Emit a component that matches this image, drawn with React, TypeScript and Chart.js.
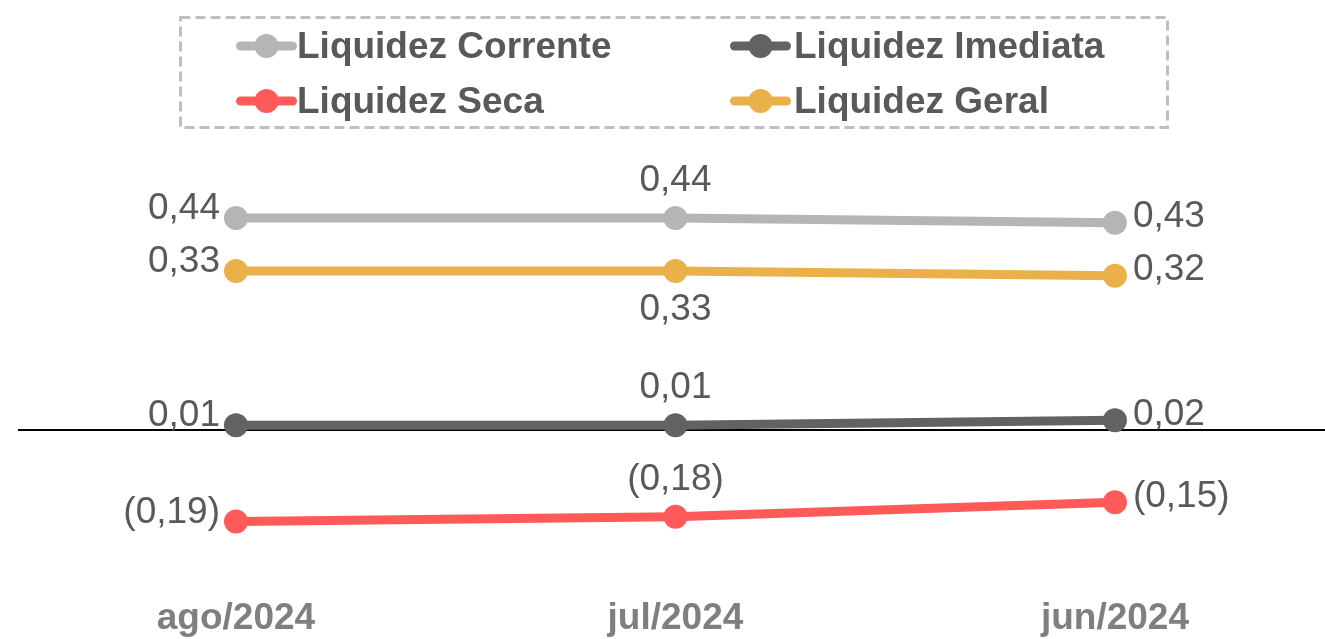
import React, { useEffect, useRef } from 'react';
import Chart from 'chart.js/auto';

const categories = ['ago/2024', 'jul/2024', 'jun/2024'];
const liquidezCorrente = [0.44, 0.44, 0.43];
const liquidezImediata = [0.01, 0.01, 0.02];
const liquidezSeca = [-0.19, -0.18, -0.15];
const liquidezGeral = [0.33, 0.33, 0.32];
const seriesNames = ['Liquidez Corrente', 'Liquidez Imediata', 'Liquidez Seca', 'Liquidez Geral'];

const seriesValues = [liquidezCorrente, liquidezImediata, liquidezSeca, liquidezGeral];
const seriesColors = ['#b5b5b5', '#626262', '#ff5a5a', '#eab04a'];
const labelPlacement = [
  ['left', 'above', 'right'],
  ['left', 'above', 'right'],
  ['left', 'above', 'right'],
  ['left', 'below', 'right'],
];

const FONT = '"Liberation Sans", Arial, sans-serif';

const fmt = (v: number) => {
  const s = Math.abs(v).toFixed(2).replace('.', ',');
  return v < 0 ? `(${s})` : s;
};

const zeroLinePlugin = {
  id: 'zeroLine',
  beforeDatasetsDraw(chart: any) {
    const { ctx, chartArea, scales } = chart;
    const y = Math.round(scales.y.getPixelForValue(0));
    ctx.save();
    ctx.strokeStyle = '#000000';
    ctx.lineWidth = 2;
    ctx.beginPath();
    ctx.moveTo(chartArea.left, y);
    ctx.lineTo(chartArea.right, y);
    ctx.stroke();
    ctx.restore();
  },
};

const dataLabelPlugin = {
  id: 'dataLabels',
  afterDatasetsDraw(chart: any) {
    const { ctx } = chart;
    ctx.save();
    ctx.font = `37px ${FONT}`;
    ctx.fillStyle = '#595959';
    ctx.textBaseline = 'middle';
    chart.data.datasets.forEach((ds: any, di: number) => {
      const meta = chart.getDatasetMeta(di);
      meta.data.forEach((pt: any, i: number) => {
        const v = ds.data[i].y;
        const pos = labelPlacement[di][i];
        const text = fmt(v);
        if (pos === 'left') {
          ctx.textAlign = 'right';
          ctx.fillText(text, pt.x - 16, pt.y - 9);
        } else if (pos === 'right') {
          ctx.textAlign = 'left';
          ctx.fillText(text, pt.x + 18, pt.y - 6);
        } else if (pos === 'above') {
          ctx.textAlign = 'center';
          ctx.fillText(text, pt.x, pt.y - 37);
        } else {
          ctx.textAlign = 'center';
          ctx.fillText(text, pt.x, pt.y + 39);
        }
      });
    });
    ctx.restore();
  },
};

export default function App() {
  const ref = useRef<HTMLCanvasElement>(null);

  useEffect(() => {
    const chart = new Chart(ref.current!, {
      type: 'line',
      data: {
        datasets: seriesNames.map((name, si) => ({
          label: name,
          data: seriesValues[si].map((v, i) => ({ x: i, y: v })),
          borderColor: seriesColors[si],
          backgroundColor: seriesColors[si],
          borderWidth: 9,
          pointRadius: 12,
          pointHoverRadius: 12,
          pointBorderWidth: 0,
          tension: 0,
          fill: false,
        })),
      },
      options: {
        responsive: false,
        animation: false,
        devicePixelRatio: 1,
        layout: { padding: { left: 18, right: 0, top: 150, bottom: 0 } },
        plugins: { legend: { display: false }, tooltip: { enabled: false } },
        scales: {
          x: {
            type: 'linear',
            min: -0.496,
            max: 2.478,
            grid: { display: false, drawTicks: false },
            border: { display: false },
            afterBuildTicks: (scale: any) => {
              scale.ticks = categories.map((_, i) => ({ value: i }));
            },
            ticks: {
              padding: 18,
              autoSkip: false,
              maxRotation: 0,
              color: '#7f7f7f',
              font: { family: FONT, size: 37, weight: 'bold' },
              callback: (v: any) => categories[v] ?? '',
            },
          },
          y: {
            display: false,
            min: -0.3083,
            max: 0.5809,
          },
        },
      },
      plugins: [zeroLinePlugin, dataLabelPlugin],
    } as any);
    return () => chart.destroy();
  }, []);

  const colX = [236, 730];
  const textX = [297, 794];
  const rowY = [46, 101];

  return (
    <div style={{ position: 'absolute', left: 0, top: 0, width: 1325, height: 639, background: '#fff', overflow: 'hidden' }}>
      <canvas ref={ref} width={1337} height={659} style={{ position: 'absolute', left: 0, top: 0, width: 1337, height: 659 }} />
      <svg width={990} height={113} style={{ position: 'absolute', left: 179, top: 16 }}>
        <rect x={1.5} y={1.5} width={987} height={110} fill="none" stroke="#bfbfbf" strokeWidth={3} strokeDasharray="10 5" />
      </svg>
      {seriesNames.map((name, i) => {
        const col = i % 2;
        const row = Math.floor(i / 2);
        return (
          <React.Fragment key={name}>
            <svg width={61} height={26} style={{ position: 'absolute', left: colX[col], top: rowY[row] - 13 }}>
              <line x1={4.5} y1={13} x2={56.5} y2={13} stroke={seriesColors[i]} strokeWidth={9} strokeLinecap="round" />
              <circle cx={30.5} cy={13} r={12} fill={seriesColors[i]} />
            </svg>
            <div
              style={{
                position: 'absolute',
                left: textX[col],
                top: rowY[row] - 20,
                height: 40,
                lineHeight: '40px',
                fontFamily: FONT,
                fontSize: 37,
                fontWeight: 'bold',
                color: '#595959',
                whiteSpace: 'nowrap',
              }}
            >
              {name}
            </div>
          </React.Fragment>
        );
      })}
    </div>
  );
}
